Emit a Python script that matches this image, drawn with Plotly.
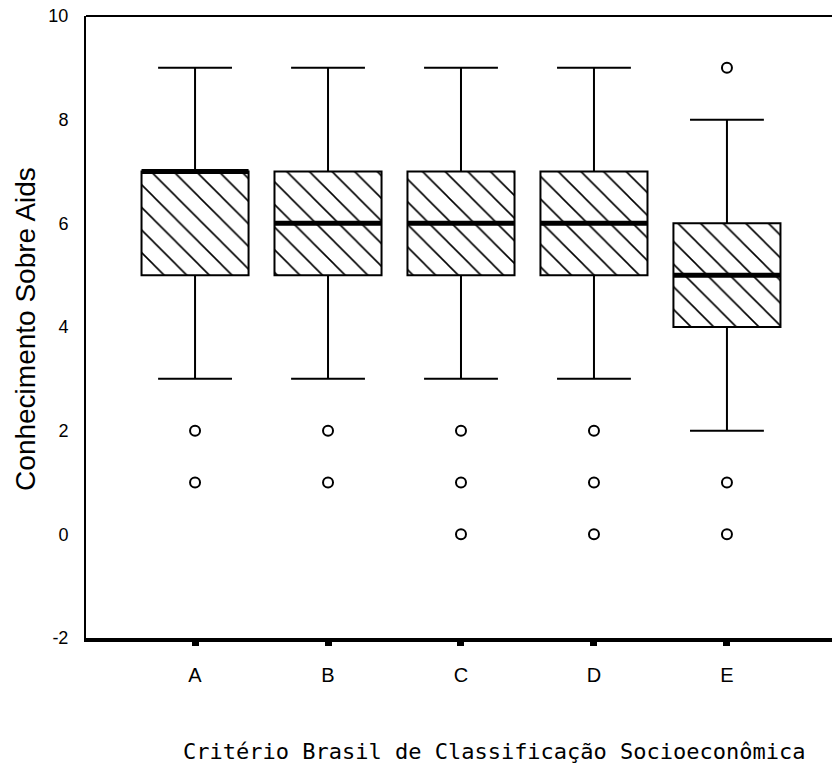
import plotly.graph_objects as go

# Socioeconomic class groups and five-number summaries of the AIDS knowledge score
groups = ["A", "B", "C", "D", "E"]
q1 = [5, 5, 5, 5, 4]
median = [7, 6, 6, 6, 5]
q3 = [7, 7, 7, 7, 6]
lower_fence = [3, 3, 3, 3, 2]
upper_fence = [9, 9, 9, 9, 8]

# Outlying cases per group
outlier_group = [0, 0, 1, 1, 2, 2, 2, 3, 3, 3, 4, 4, 4]
outlier_value = [2, 1, 2, 1, 2, 1, 0, 2, 1, 0, 9, 1, 0]

y_ticks = [-2, 0, 2, 4, 6, 8, 10]
y_tick_text = ["-2", "0", "2", "4", "6", "8", "10"]

BOX_W = 0.805
pos = list(range(len(groups)))

fig = go.Figure()

# Hatched fill of the interquartile range
fig.add_trace(go.Bar(
    x=pos,
    base=q1,
    y=[b - a for a, b in zip(q1, q3)],
    width=BOX_W,
    marker=dict(
        color="white",
        line=dict(width=0),
        pattern=dict(shape="\\", fgcolor="#000000", fgopacity=1, bgcolor="white",
                     size=16, solidity=0.1, fillmode="replace"),
    ),
    hoverinfo="skip",
    showlegend=False,
))

# Box outlines and whiskers
fig.add_trace(go.Box(
    x=pos,
    q1=q1,
    median=median,
    q3=q3,
    lowerfence=lower_fence,
    upperfence=upper_fence,
    width=BOX_W,
    whiskerwidth=0.69,
    fillcolor="rgba(0,0,0,0)",
    line=dict(color="black", width=2),
    showlegend=False,
))

# Heavy median bars
mx, my = [], []
for i, m in zip(pos, median):
    mx += [i - BOX_W / 2, i + BOX_W / 2, None]
    my += [m, m, None]
fig.add_trace(go.Scatter(
    x=mx, y=my, mode="lines",
    line=dict(color="black", width=5),
    hoverinfo="skip", showlegend=False,
))

# Outliers
fig.add_trace(go.Scatter(
    x=outlier_group, y=outlier_value, mode="markers",
    marker=dict(symbol="circle-open", size=10, color="black", line=dict(width=2)),
    showlegend=False,
))

# Top frame edge
fig.add_shape(type="line", xref="paper", yref="paper", x0=0, x1=1, y0=1, y1=1,
              line=dict(color="black", width=2))

fig.add_annotation(
    text="Critério Brasil de Classificação Socioeconômica",
    xref="paper", yref="paper", x=0.548, y=-0.183,
    xanchor="center", yanchor="middle", showarrow=False,
    font=dict(family="DejaVu Sans Mono", size=22, color="black"),
)
fig.add_annotation(
    text="Conhecimento Sobre Aids",
    xref="paper", yref="paper", x=-0.0804, y=0.497, textangle=-90,
    xanchor="center", yanchor="middle", showarrow=False,
    font=dict(family="Liberation Sans", size=28, color="black"),
)

fig.update_layout(
    width=832, height=778,
    margin=dict(l=86, r=0, t=16, b=140),
    paper_bgcolor="white", plot_bgcolor="white",
    barmode="overlay",
    font=dict(family="Liberation Sans", color="black"),
    xaxis=dict(
        range=[-0.82, 4.79],
        tickmode="array", tickvals=pos, ticktext=groups,
        showline=True, linecolor="black", linewidth=4,
        ticks="outside", ticklen=4, tickwidth=7, tickcolor="black",
        ticklabelstandoff=12,
        tickfont=dict(size=20),
        showgrid=False, zeroline=False,
    ),
    yaxis=dict(
        range=[-2, 10],
        tickmode="array", tickvals=y_ticks, ticktext=y_tick_text,
        showline=True, linecolor="black", linewidth=2,
        ticks="", ticklabelstandoff=12,
        tickfont=dict(size=18),
        showgrid=False, zeroline=False,
    ),
)

fig.write_html("out.html")
